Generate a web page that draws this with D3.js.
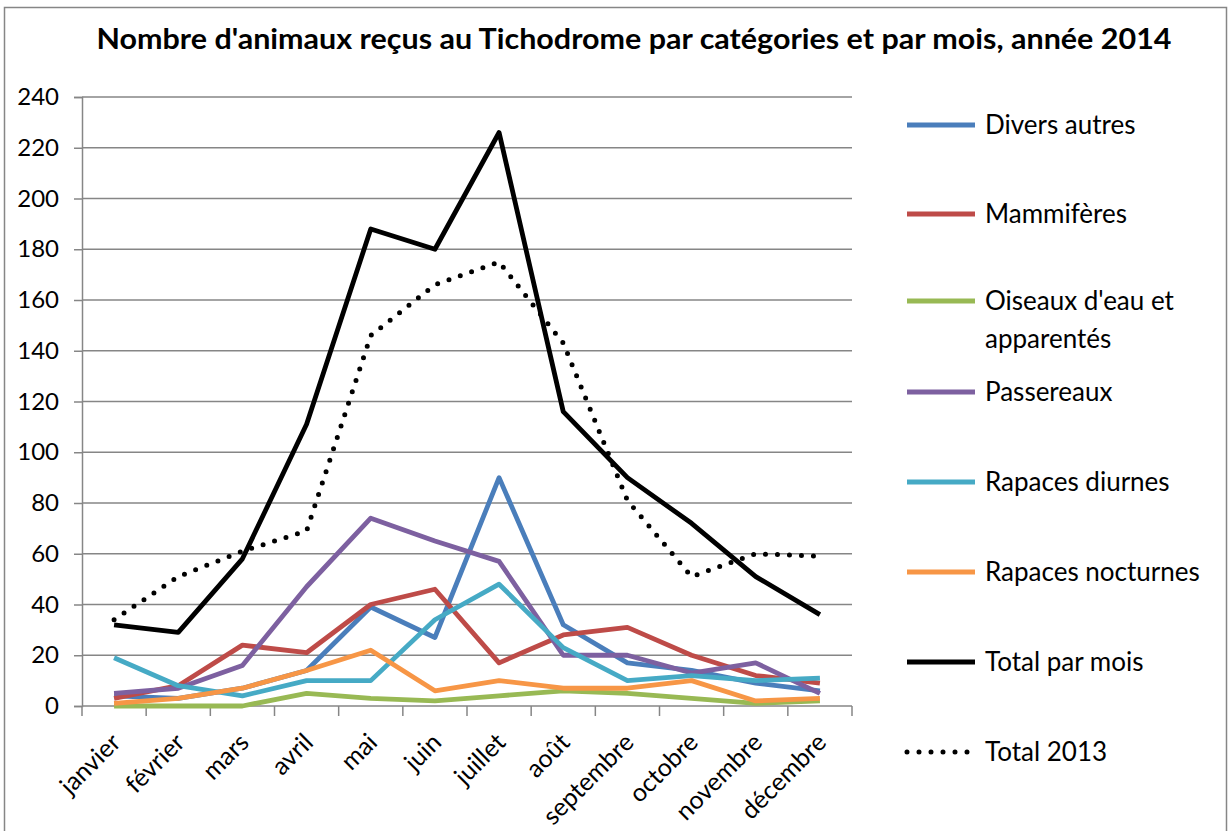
<!DOCTYPE html>
<html>
<head>
<meta charset="utf-8">
<script src="https://cdn.jsdelivr.net/npm/d3@7"></script>
<style>
  body { margin: 0; background: #fff; }
  text { font-family: Lato, "Open Sans", sans-serif; fill: #000; }
</style>
</head>
<body>
<div id="plot"></div>
<script>
// data
const months = ["janvier", "février", "mars", "avril", "mai", "juin", "juillet", "août", "septembre", "octobre", "novembre", "décembre"];
const divers = [4, 3, 7, 14, 39, 27, 90, 32, 17, 14, 9, 6];
const mammiferes = [3, 8, 24, 21, 40, 46, 17, 28, 31, 20, 12, 9];
const oiseauxEau = [0, 0, 0, 5, 3, 2, 4, 6, 5, 3, 1, 2];
const passereaux = [5, 7, 16, 47, 74, 65, 57, 20, 20, 13, 17, 5];
const rapacesDiurnes = [19, 8, 4, 10, 10, 34, 48, 23, 10, 12, 10, 11];
const rapacesNocturnes = [1, 3, 7, 14, 22, 6, 10, 7, 7, 10, 2, 3];
const totalMois = [32, 29, 58, 111, 188, 180, 226, 116, 90, 72, 51, 36];
const total2013 = [34, 51, 61, 69, 146, 166, 175, 143, 81, 51, 60, 59];
const yTicks = [0, 20, 40, 60, 80, 100, 120, 140, 160, 180, 200, 220, 240];

const series = [
  {name: ["Divers autres"], values: divers, color: "#4A7EBB"},
  {name: ["Mammifères"], values: mammiferes, color: "#BE4B48"},
  {name: ["Oiseaux d'eau et", "apparentés"], values: oiseauxEau, color: "#98B954"},
  {name: ["Passereaux"], values: passereaux, color: "#7D60A0"},
  {name: ["Rapaces diurnes"], values: rapacesDiurnes, color: "#46AAC5"},
  {name: ["Rapaces nocturnes"], values: rapacesNocturnes, color: "#F79646"},
  {name: ["Total par mois"], values: totalMois, color: "#000000"},
  {name: ["Total 2013"], values: total2013, color: "#000000", dotted: true}
];

const width = 1231, height = 831;
const svg = d3.select("#plot").append("svg")
              .attr("width", width)
              .attr("height", height);

// chart border
svg.append("rect")
   .attr("x", 4.5).attr("y", 7.5)
   .attr("width", 1222).attr("height", 830)
   .attr("fill", "white")
   .attr("stroke", "#868686")
   .attr("stroke-width", 1.5);

svg.append("text")
   .attr("x", 634).attr("y", 49)
   .attr("text-anchor", "middle")
   .attr("font-size", "28px")
   .attr("font-weight", "bold")
   .attr("textLength", 1075)
   .attr("lengthAdjust", "spacingAndGlyphs")
   .text("Nombre d'animaux reçus au Tichodrome par catégories et par mois, année 2014");

const x = d3.scalePoint().domain(months).range([82, 852]).padding(0.5);
const xBand = d3.scaleBand().domain(months).range([82, 852]);
const y = d3.scaleLinear().domain([0, 240]).range([706, 97]);

// gridlines
svg.selectAll("line.grid")
   .data(yTicks.slice(1))
   .enter()
   .append("line")
   .attr("class", "grid")
   .attr("x1", 82).attr("x2", 852)
   .attr("y1", d => y(d)).attr("y2", d => y(d))
   .attr("stroke", "#868686")
   .attr("stroke-width", 1.5);

// y axis
const yAxis = d3.axisLeft(y).tickValues(yTicks).tickSize(8).tickPadding(15);
const gy = svg.append("g")
   .attr("transform", "translate(82,0)")
   .call(yAxis);
gy.selectAll("text").attr("font-size", "24px").attr("font-family", "Lato, sans-serif");
gy.selectAll("line, path").attr("stroke", "#868686").attr("stroke-width", 1.5);

// x axis with ticks between categories
const gx = svg.append("g").attr("transform", "translate(0,706)");
gx.append("line")
  .attr("x1", 82).attr("x2", 852)
  .attr("stroke", "#868686").attr("stroke-width", 1.5);
gx.selectAll("line.tick")
  .data(months.concat(["end"]))
  .enter()
  .append("line")
  .attr("x1", d => d === "end" ? 852 : xBand(d))
  .attr("x2", d => d === "end" ? 852 : xBand(d))
  .attr("y1", 0).attr("y2", 10)
  .attr("stroke", "#868686").attr("stroke-width", 1.5);
gx.selectAll("text")
  .data(months)
  .enter()
  .append("text")
  .attr("transform", d => "translate(" + (x(d) + 8) + ",38) rotate(-45)")
  .attr("text-anchor", "end")
  .attr("font-size", "25px")
  .text(d => d);

// lines
const line = d3.line()
               .x((d, i) => x(months[i]))
               .y(d => y(d));
svg.selectAll("path.series")
   .data(series)
   .enter()
   .append("path")
   .attr("class", "series")
   .attr("d", d => line(d.values))
   .attr("fill", "none")
   .attr("stroke", d => d.color)
   .attr("stroke-width", d => d.dotted ? 5 : 4.8)
   .attr("stroke-linecap", d => d.dotted ? "round" : "butt")
   .attr("stroke-linejoin", "round")
   .attr("stroke-dasharray", d => d.dotted ? "0 12" : null);

// legend
const legendY = [125, 214, 301, 392, 482, 572, 662, 752];
const legend = svg.selectAll("g.legend")
   .data(series)
   .enter()
   .append("g")
   .attr("class", "legend")
   .attr("transform", (d, i) => "translate(907," + legendY[i] + ")");
legend.append("line")
      .attr("x1", 0).attr("x2", 68)
      .attr("stroke", d => d.color)
      .attr("stroke-width", d => d.dotted ? 5 : 4.8)
      .attr("stroke-linecap", d => d.dotted ? "round" : "butt")
      .attr("stroke-dasharray", d => d.dotted ? "0 12" : null);
legend.each(function(d) {
  const t = d3.select(this).append("text")
              .attr("x", 78)
              .attr("y", 0)
              .attr("font-size", "26px");
  d.name.forEach((n, k) => {
    t.append("tspan").attr("x", 78).attr("dy", k === 0 ? "0.35em" : "38px").text(n);
  });
});
</script>
</body>
</html>
